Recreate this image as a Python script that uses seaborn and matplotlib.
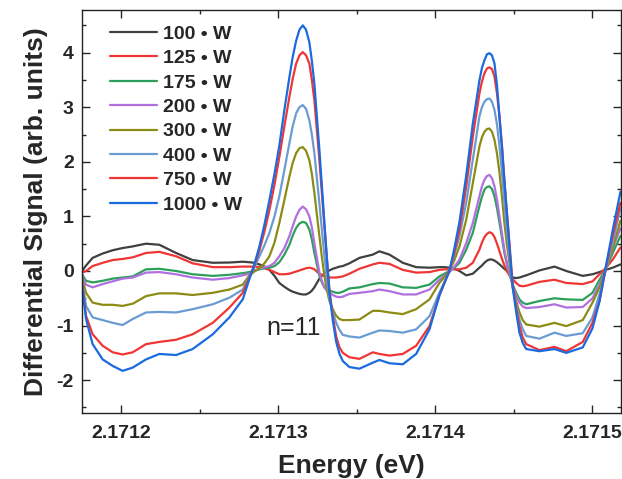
import matplotlib
matplotlib.use("Agg")
import matplotlib.pyplot as plt
import seaborn as sns
import pandas as pd
from matplotlib.ticker import MultipleLocator, FixedLocator

energy = [2.1711750, 2.1711775, 2.1711817, 2.1711881, 2.1711945, 2.1712008, 2.1712072, 2.1712157,
          2.1712242, 2.1712348, 2.1712454, 2.1712582, 2.1712688, 2.1712773,
          2.1712815, 2.1712847, 2.1712879, 2.1712911, 2.1712943, 2.1712975, 2.1713006, 2.1713038, 2.1713070,
          2.1713091, 2.1713113, 2.1713134, 2.1713155, 2.1713176, 2.1713197, 2.1713213, 2.1713229,
          2.1713261, 2.1713277, 2.1713293, 2.1713309, 2.1713325, 2.1713346, 2.1713368, 2.1713389, 2.1713410,
          2.1713452, 2.1713516, 2.1713601, 2.1713643, 2.1713707, 2.1713792, 2.1713877, 2.1713962,
          2.1714025, 2.1714057, 2.1714089, 2.1714121, 2.1714153, 2.1714196, 2.1714238,
          2.1714280, 2.1714296, 2.1714312, 2.1714328, 2.1714344, 2.1714360, 2.1714376, 2.1714392,
          2.1714408, 2.1714424, 2.1714439, 2.1714455, 2.1714471,
          2.1714492, 2.1714514, 2.1714535, 2.1714556, 2.1714578,
          2.1714662, 2.1714758, 2.1714833, 2.1714938, 2.1715000, 2.1715045, 2.1715083, 2.1715129, 2.1715178]

s100 = [0.00, 0.10, 0.24, 0.32, 0.38, 0.42, 0.45, 0.50, 0.48, 0.33, 0.20, 0.15, 0.155, 0.17,
        0.16, 0.15, 0.12, 0.08, 0.02, -0.09, -0.22, -0.29, -0.35,
        -0.38, -0.40, -0.42, -0.43, -0.43, -0.40, -0.36, -0.30,
        -0.14, -0.09, -0.04, -0.01, 0.01, 0.04, 0.06, 0.08, 0.09,
        0.14, 0.24, 0.30, 0.36, 0.30, 0.15, 0.07, 0.06,
        0.07, 0.07, 0.06, 0.04, 0.00, -0.08, -0.05,
        0.06, 0.10, 0.15, 0.19, 0.21, 0.21, 0.19, 0.16, 0.12, 0.08, 0.04, 0.00, -0.05,
        -0.12, -0.13, -0.12, -0.10, -0.08,
        0.01, 0.08, 0.00, -0.09, -0.06, -0.02, 0.02, 0.06, 0.12]
s125 = [-0.03, 0.00, 0.09, 0.15, 0.20, 0.22, 0.25, 0.33, 0.35, 0.27, 0.14, 0.07, 0.07, 0.08,
        0.08, 0.08, 0.07, 0.05, 0.02, -0.02, -0.06, -0.06, -0.05,
        -0.03, -0.01, 0.01, 0.03, 0.05, 0.06, 0.05, 0.03,
        -0.05, -0.07, -0.09, -0.11, -0.12, -0.12, -0.12, -0.11, -0.10,
        -0.05, 0.04, 0.12, 0.15, 0.13, 0.02, -0.03, -0.02,
        0.02, 0.03, 0.03, 0.03, 0.03, 0.06, 0.15,
        0.39, 0.52, 0.62, 0.68, 0.71, 0.69, 0.62, 0.50, 0.36, 0.22, 0.10, 0.00, -0.08,
        -0.15, -0.22, -0.27, -0.28, -0.27,
        -0.20, -0.16, -0.22, -0.24, -0.19, -0.06, 0.05, 0.21, 0.43]
s175 = [-0.06, -0.18, -0.21, -0.18, -0.14, -0.12, -0.10, 0.03, 0.04, 0.00, -0.06, -0.09, -0.07, -0.04,
        -0.02, 0.01, 0.03, 0.05, 0.06, 0.09, 0.16, 0.30, 0.48,
        0.65, 0.79, 0.87, 0.90, 0.88, 0.76, 0.58, 0.33,
        -0.09, -0.21, -0.30, -0.34, -0.36, -0.38, -0.40, -0.40, -0.38,
        -0.32, -0.30, -0.24, -0.22, -0.23, -0.30, -0.31, -0.25,
        -0.10, -0.05, 0.00, 0.06, 0.15, 0.39, 0.70,
        1.19, 1.36, 1.49, 1.54, 1.55, 1.50, 1.37, 1.15, 0.88, 0.60, 0.33, 0.12, -0.06,
        -0.25, -0.40, -0.52, -0.58, -0.61,
        -0.55, -0.50, -0.52, -0.53, -0.40, -0.16, 0.03, 0.33, 0.64]
s200 = [-0.09, -0.25, -0.30, -0.24, -0.19, -0.14, -0.12, -0.03, -0.02, -0.06, -0.12, -0.16, -0.13, -0.08,
        -0.05, 0.00, 0.04, 0.07, 0.09, 0.15, 0.27, 0.42, 0.64,
        0.82, 1.00, 1.12, 1.18, 1.13, 1.00, 0.80, 0.51,
        -0.03, -0.18, -0.30, -0.36, -0.40, -0.44, -0.47, -0.48, -0.47,
        -0.42, -0.40, -0.37, -0.34, -0.37, -0.43, -0.43, -0.34,
        -0.16, -0.09, -0.02, 0.08, 0.21, 0.51, 0.88,
        1.37, 1.55, 1.67, 1.74, 1.76, 1.70, 1.55, 1.30, 1.00, 0.68, 0.39, 0.15, -0.03,
        -0.28, -0.45, -0.58, -0.65, -0.68,
        -0.66, -0.61, -0.67, -0.66, -0.50, -0.25, 0.03, 0.42, 0.78]
s300 = [-0.12, -0.40, -0.58, -0.62, -0.62, -0.64, -0.60, -0.46, -0.41, -0.41, -0.44, -0.40, -0.34, -0.25,
        -0.08, -0.01, 0.05, 0.14, 0.27, 0.52, 0.88, 1.30, 1.73,
        1.98, 2.16, 2.25, 2.27, 2.20, 2.03, 1.78, 1.43,
        0.64, 0.25, -0.09, -0.35, -0.55, -0.70, -0.82, -0.88, -0.90,
        -0.90, -0.89, -0.73, -0.73, -0.76, -0.79, -0.70, -0.52,
        -0.22, -0.11, 0.00, 0.20, 0.45, 0.94, 1.61,
        2.28, 2.45, 2.55, 2.60, 2.61, 2.55, 2.40, 2.15, 1.79, 1.35, 0.88, 0.48, 0.15,
        -0.30, -0.55, -0.76, -0.90, -0.98,
        -1.02, -0.95, -1.01, -0.90, -0.58, -0.30, 0.00, 0.42, 0.92]
s400 = [-0.16, -0.64, -0.85, -0.90, -0.95, -0.99, -0.88, -0.76, -0.75, -0.76, -0.70, -0.61, -0.49, -0.34,
        -0.10, 0.07, 0.27, 0.47, 0.70, 1.00, 1.37, 1.85, 2.34,
        2.65, 2.89, 3.00, 3.04, 2.97, 2.76, 2.50, 2.16,
        1.24, 0.75, 0.27, -0.15, -0.50, -0.75, -0.95, -1.08, -1.17,
        -1.20, -1.22, -1.13, -1.09, -1.10, -1.13, -1.07, -0.83,
        -0.40, -0.20, 0.00, 0.30, 0.64, 1.25, 2.04,
        2.83, 3.00, 3.10, 3.15, 3.16, 3.10, 2.95, 2.68, 2.28, 1.78, 1.25, 0.75, 0.27,
        -0.30, -0.62, -0.89, -1.07, -1.19,
        -1.24, -1.13, -1.19, -1.14, -0.85, -0.42, 0.00, 0.52, 1.15]
s750 = [-0.22, -0.82, -1.16, -1.37, -1.49, -1.53, -1.49, -1.34, -1.30, -1.26, -1.16, -0.95, -0.67, -0.40,
        -0.12, 0.10, 0.38, 0.72, 1.12, 1.58, 2.09, 2.65, 3.19,
        3.52, 3.80, 3.95, 4.01, 3.95, 3.80, 3.50, 3.13,
        2.03, 1.42, 0.82, 0.22, -0.35, -0.82, -1.20, -1.40, -1.50,
        -1.58, -1.61, -1.49, -1.52, -1.55, -1.52, -1.37, -1.01,
        -0.45, -0.22, 0.00, 0.35, 0.75, 1.55, 2.46,
        3.25, 3.47, 3.62, 3.71, 3.73, 3.70, 3.56, 3.25, 2.83, 2.28, 1.67, 1.08, 0.52,
        -0.25, -0.68, -1.01, -1.22, -1.34,
        -1.45, -1.39, -1.47, -1.30, -0.95, -0.55, 0.03, 0.65, 1.25]
s1000 = [-0.28, -0.88, -1.34, -1.62, -1.74, -1.83, -1.77, -1.62, -1.52, -1.54, -1.43, -1.16, -0.85, -0.52,
         -0.15, 0.12, 0.45, 0.85, 1.30, 1.78, 2.30, 2.95, 3.55,
         3.92, 4.22, 4.42, 4.50, 4.42, 4.19, 3.85, 3.43,
         2.22, 1.55, 0.88, 0.22, -0.40, -0.90, -1.30, -1.52, -1.65,
         -1.76, -1.79, -1.68, -1.63, -1.69, -1.71, -1.52, -1.07,
         -0.45, -0.22, 0.00, 0.42, 0.90, 1.75, 2.70,
         3.49, 3.72, 3.86, 3.97, 3.99, 3.95, 3.80, 3.40, 2.80, 2.25, 1.65, 1.05, 0.45,
         -0.30, -0.75, -1.13, -1.32, -1.43,
         -1.47, -1.43, -1.50, -1.40, -1.05, -0.55, 0.05, 0.75, 1.45]

labels = ["100 \u2022 W", "125 \u2022 W", "175 \u2022 W", "200 \u2022 W",
          "300 \u2022 W", "400 \u2022 W", "750 \u2022 W", "1000 \u2022 W"]
colors = ["#404040", "#f03535", "#2ca05a", "#b070e0", "#8c8c14", "#6a9bd2", "#f03535", "#1a6ae0"]

xticks = [2.1712, 2.1713, 2.1714, 2.1715]
xticklabels = ["2.1712", "2.1713", "2.1714", "2.1715"]
yticks = [-2, -1, 0, 1, 2, 3, 4]

series = [s100, s125, s175, s200, s300, s400, s750, s1000]
frames = []
for lab, vals in zip(labels, series):
    frames.append(pd.DataFrame({"Energy": energy, "Signal": vals, "Power": lab}))
df = pd.concat(frames, ignore_index=True)

sns.set_style("ticks")
plt.rcParams["font.family"] = ["Liberation Sans", "DejaVu Sans"]

fig = plt.figure(figsize=(6.22, 4.79), dpi=100)
ax = fig.add_axes([0.132, 0.138, 0.866, 0.841])

sns.lineplot(data=df, x="Energy", y="Signal", hue="Power", hue_order=labels,
             palette=dict(zip(labels, colors)), estimator=None, sort=False,
             linewidth=1.6, ax=ax)

ax.set_xlim(2.171175, 2.171518)
ax.set_ylim(-2.6, 4.78)
ax.xaxis.set_major_locator(FixedLocator(xticks))
ax.set_xticklabels(xticklabels)
ax.xaxis.set_minor_locator(MultipleLocator(0.00005))
ax.set_yticks(yticks)
ax.set_yticklabels([str(v) for v in yticks])
ax.yaxis.set_minor_locator(MultipleLocator(0.5))
ax.tick_params(which="both", direction="in", top=True, right=True, width=1.0)
ax.tick_params(which="major", length=6, labelsize=14)
ax.tick_params(which="minor", length=3)
ax.tick_params(axis="x", which="major", pad=9)
ax.tick_params(axis="y", which="major", pad=6)
for t in ax.get_xticklabels() + ax.get_yticklabels():
    t.set_fontweight("bold")
for sp in ax.spines.values():
    sp.set_linewidth(1.0)
    sp.set_color("#222222")

ax.set_xlabel("Energy (eV)", fontsize=19, fontweight="bold", labelpad=8)
ax.set_ylabel("Differential Signal (arb. units)", fontsize=19, fontweight="bold", labelpad=6)

ax.text(2.1713095, -1.05, "n=11", fontsize=18, ha="center", va="center")

leg = ax.legend(loc="upper left", bbox_to_anchor=(0.019, 1.006), frameon=False,
                prop={"weight": "bold", "size": 14}, handlelength=2.4,
                labelspacing=0.35, handletextpad=0.35)

fig.savefig("out.png", dpi=100)
